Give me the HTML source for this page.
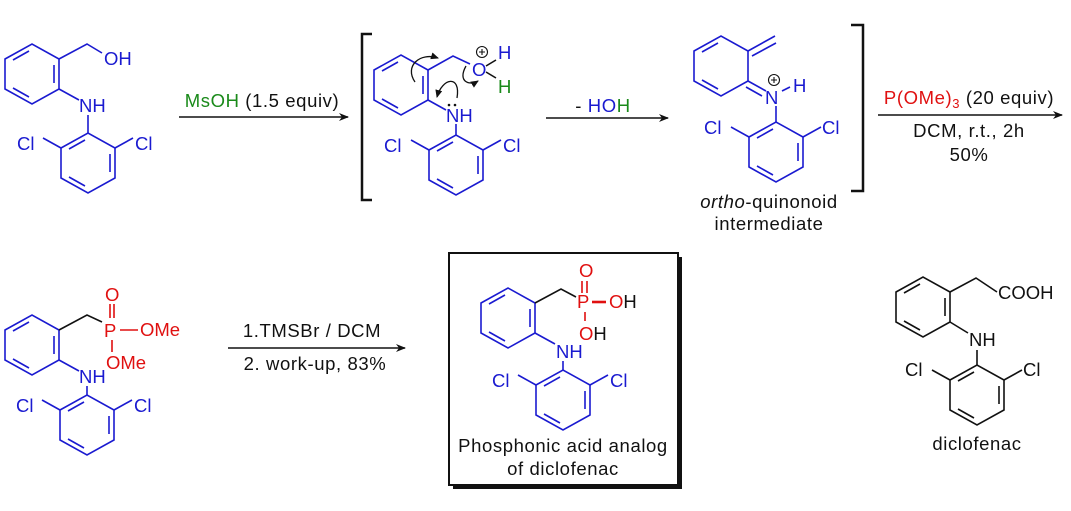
<!DOCTYPE html>
<html><head><meta charset="utf-8"><style>
html,body{margin:0;padding:0;background:#fff;}
svg{display:block;}
text{font-family:"Liberation Sans",Arial,sans-serif;font-size:18.5px;}
.cap{letter-spacing:0.6px;}
.b{fill:#1a1ad0}.r{fill:#e01010}.g{fill:#1a8a1a}.k{fill:#111}
</style></head><body>
<svg width="1071" height="511" viewBox="0 0 1071 511" xmlns="http://www.w3.org/2000/svg">
<defs>
<marker id="ah" markerWidth="10" markerHeight="8" refX="9" refY="4" orient="auto" markerUnits="userSpaceOnUse">
<path d="M0,0 L10,4 L0,8 L3,4 Z" fill="#111"/></marker>
<marker id="ca" markerWidth="8" markerHeight="7" refX="7" refY="3.5" orient="auto" markerUnits="userSpaceOnUse">
<path d="M0,0 L8,3.5 L0,7 Z" fill="#111"/></marker>
</defs>
<g fill="none" stroke-width="1.6">
<g stroke="#1a1ad0">
<path transform="translate(32,74)" d="M-27,-15 L0,-30 L27,-15 L27,15 L0,30 L-27,15 Z M-19,-14 L-3,-23 M22,-9 L22,9 M-19,14 L-3,23"/>
<path transform="translate(88,163)" d="M-27,-15 L0,-30 L27,-15 L27,15 L0,30 L-27,15 Z M-19,-14 L-3,-23 M22,-9 L22,9 M-19,14 L-3,23"/>
<path d="M59,59 L87,44 L102,53 M59,89 L79,100 M88,115 L88,133 M61,148 L43,138 M115,148 L133,138"/>
</g>
<g stroke="#1a1ad0">
<path transform="translate(401,85)" d="M-27,-15 L0,-30 L27,-15 L27,15 L0,30 L-27,15 Z M-19,-14 L-3,-23 M22,-9 L22,9 M-19,14 L-3,23"/>
<path transform="translate(456,165)" d="M-27,-15 L0,-30 L27,-15 L27,15 L0,30 L-27,15 Z M-19,-14 L-3,-23 M22,-9 L22,9 M-19,14 L-3,23"/>
<path d="M428,70 L453,56 L470,64 M428,100 L446,110 M456,124 L456,135 M429,150 L411,140 M483,150 L501,140"/>
</g>
<path stroke="#111" d="M486,66 L496,60 M486,72 L496,78"/>
<g stroke="#111" stroke-width="1.3">
<path d="M415,82 C404,66 420,52 438,58" marker-end="url(#ca)"/>
<path d="M457,98 C461,74 442,78 437,97" marker-end="url(#ca)"/>
<path d="M466,66 C457,82 470,86 478,81" marker-end="url(#ca)"/>
</g>
<path stroke="#111" stroke-width="2.5" d="M372,34 L362,34 L362,200 L372,200 M851,25 L863,25 L863,191 L851,191"/>
<g stroke="#1a1ad0">
<path transform="translate(721,66)" d="M-27,-15 L0,-30 L27,-15 L27,15 L0,30 L-27,15 Z M-19,-14 L-3,-23 M-19,14 L-3,23"/>
<path transform="translate(776,152)" d="M-27,-15 L0,-30 L27,-15 L27,15 L0,30 L-27,15 Z M-19,-14 L-3,-23 M22,-9 L22,9 M-19,14 L-3,23"/>
<path d="M748,51 L775,36 M752,56 L776,43 M748,81 L766,91 M746,87 L762,96 M776,106 L776,122 M749,137 L731,127 M803,137 L821,127 M782,91 L790,87"/>
</g>
<g stroke="#1a1ad0">
<path transform="translate(32,345)" d="M-27,-15 L0,-30 L27,-15 L27,15 L0,30 L-27,15 Z M-19,-14 L-3,-23 M22,-9 L22,9 M-19,14 L-3,23"/>
<path transform="translate(87,425)" d="M-27,-15 L0,-30 L27,-15 L27,15 L0,30 L-27,15 Z M-19,-14 L-3,-23 M22,-9 L22,9 M-19,14 L-3,23"/>
<path d="M59,360 L79,371 M87,386 L87,395 M60,410 L42,400 M114,410 L132,400"/>
</g>
<path stroke="#111" d="M59,330 L87,315 L102,322"/>
<path stroke="#e01010" d="M110,304 L110,318 M114,304 L114,318 M120,330 L138,330 M112,340 L112,352"/>
<g stroke="#111">
<path transform="translate(923,307)" d="M-27,-15 L0,-30 L27,-15 L27,15 L0,30 L-27,15 Z M-19,-14 L-3,-23 M22,-9 L22,9 M-19,14 L-3,23"/>
<path transform="translate(977,395)" d="M-27,-15 L0,-30 L27,-15 L27,15 L0,30 L-27,15 Z M-19,-14 L-3,-23 M22,-9 L22,9 M-19,14 L-3,23"/>
<path d="M950,292 L976,278 L997,292 M950,322 L968,333 M977,350 L977,365 M950,380 L932,370 M1004,380 L1022,370"/>
</g>
<g stroke="#111" stroke-width="1.4">
<path d="M179,117 L348,117" marker-end="url(#ah)"/>
<path d="M546,118 L668,118" marker-end="url(#ah)"/>
<path d="M878,115 L1062,115" marker-end="url(#ah)"/>
<path d="M228,348 L405,348" marker-end="url(#ah)"/>
</g>
<rect x="453" y="257" width="229" height="232" fill="#111"/>
<rect x="449" y="253" width="229" height="232" fill="#fff" stroke="#111" stroke-width="2"/>
</g>
<g fill="none" stroke-width="1.6">
<g stroke="#1a1ad0">
<path transform="translate(508,318)" d="M-27,-15 L0,-30 L27,-15 L27,15 L0,30 L-27,15 Z M-19,-14 L-3,-23 M22,-9 L22,9 M-19,14 L-3,23"/>
<path transform="translate(563,400)" d="M-27,-15 L0,-30 L27,-15 L27,15 L0,30 L-27,15 Z M-19,-14 L-3,-23 M22,-9 L22,9 M-19,14 L-3,23"/>
<path d="M535,333 L555,344 M563,361 L563,370 M536,385 L518,375 M590,385 L608,375"/>
</g>
<path stroke="#111" d="M535,303 L561,289 L576,297"/>
<path stroke="#e01010" d="M582,281 L582,293 M587,281 L587,293 M585,312 L585,321"/>
<path stroke="#e01010" stroke-width="2.6" d="M592,302 L606,302"/>
</g>
<text class="b" x="104" y="65">OH</text>
<text class="b" x="79" y="112">NH</text>
<text class="b" x="17" y="150">Cl</text>
<text class="b" x="135" y="150">Cl</text>

<text class="b" x="472" y="76">O</text>
<circle cx="482" cy="52" r="5.5" fill="none" stroke="#111" stroke-width="1.1"/>
<path d="M479,52 L485,52 M482,49 L482,55" stroke="#111" stroke-width="1.1"/>
<text class="b" x="498" y="59">H</text>
<text class="g" x="498" y="93">H</text>
<circle cx="449" cy="105" r="1.3" fill="#111"/><circle cx="455" cy="105" r="1.3" fill="#111"/>
<text class="b" x="446" y="122">NH</text>
<text class="b" x="384" y="152">Cl</text>
<text class="b" x="503" y="152">Cl</text>

<text class="b" x="765" y="104">N</text>
<circle cx="774" cy="80" r="5.5" fill="none" stroke="#111" stroke-width="1.1"/>
<path d="M771,80 L777,80 M774,77 L774,83" stroke="#111" stroke-width="1.1"/>
<text class="b" x="793" y="92">H</text>
<text class="b" x="704" y="134">Cl</text>
<text class="b" x="822" y="134">Cl</text>
<text class="k cap" x="769" y="208" text-anchor="middle"><tspan font-style="italic">ortho</tspan>-quinonoid</text>
<text class="k cap" x="769" y="230" text-anchor="middle">intermediate</text>

<text class="r" x="104" y="337">P</text>
<text class="r" x="105" y="301">O</text>
<text class="r" x="140" y="336">OMe</text>
<text class="r" x="106" y="369">OMe</text>
<text class="b" x="79" y="383">NH</text>
<text class="b" x="16" y="412">Cl</text>
<text class="b" x="134" y="412">Cl</text>

<text class="r" x="577" y="308">P</text>
<text class="r" x="579" y="277">O</text>
<text x="609" y="308"><tspan class="r">O</tspan><tspan class="k">H</tspan></text>
<text x="579" y="340"><tspan class="r">O</tspan><tspan class="k">H</tspan></text>
<text class="b" x="556" y="358">NH</text>
<text class="b" x="492" y="387">Cl</text>
<text class="b" x="610" y="387">Cl</text>
<text class="k cap" x="563" y="452" text-anchor="middle">Phosphonic acid analog</text>
<text class="k cap" x="563" y="475" text-anchor="middle">of diclofenac</text>

<text class="k" x="998" y="299">COOH</text>
<text class="k" x="969" y="346">NH</text>
<text class="k" x="905" y="376">Cl</text>
<text class="k" x="1023" y="376">Cl</text>
<text class="k cap" x="977" y="450" text-anchor="middle">diclofenac</text>

<text class="cap" x="262" y="107" text-anchor="middle"><tspan class="g">MsOH</tspan><tspan class="k"> (1.5 equiv)</tspan></text>
<text class="cap" x="603" y="112" text-anchor="middle"><tspan class="k">- </tspan><tspan class="b">HO</tspan><tspan class="g">H</tspan></text>
<text class="cap" x="969" y="104" text-anchor="middle"><tspan class="r">P(OMe)</tspan><tspan class="r" font-size="13" dy="4">3</tspan><tspan class="k" dy="-4"> (20 equiv)</tspan></text>
<text class="k cap" x="969" y="137" text-anchor="middle">DCM, r.t., 2h</text>
<text class="k cap" x="969" y="161" text-anchor="middle">50%</text>
<text class="k cap" x="312" y="337" text-anchor="middle">1.TMSBr / DCM</text>
<text class="k cap" x="315" y="370" text-anchor="middle">2. work-up, 83%</text>
</svg>
</body></html>
